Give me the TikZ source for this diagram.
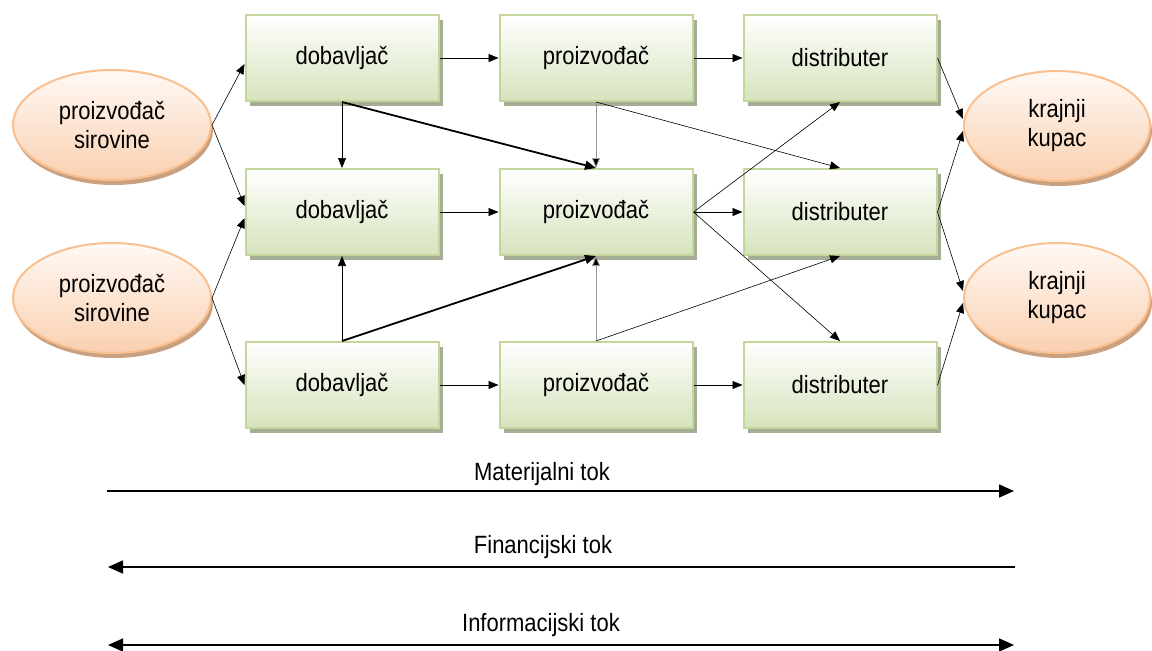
\documentclass[tikz,border=0pt]{standalone}
\usepackage{fontspec}
\setmainfont[FakeStretch=0.88]{Liberation Sans}
\usetikzlibrary{arrows.meta,shadows,calc,shapes.geometric}
\definecolor{boxborder}{HTML}{C3D69B}
\definecolor{boxbottom}{HTML}{D6E3BC}
\definecolor{boxshadow}{HTML}{A3AE94}
\definecolor{ellborder}{HTML}{F9BF8F}
\definecolor{elltop}{HTML}{FFF9F5}
\definecolor{ellbottom}{HTML}{FAD0B0}
\definecolor{ellshadow}{HTML}{C9A080}
\tikzset{
  stagebox/.style={rectangle, draw=boxborder, line width=2pt,
    top color=white, bottom color=boxbottom,
    minimum width=193pt, minimum height=86pt, inner sep=0pt,
    font=\fontsize{25}{29}\selectfont,
    drop shadow={shadow xshift=4pt, shadow yshift=-5pt, fill=boxshadow, opacity=1}},
  endell/.style={ellipse, draw=ellborder, line width=2pt,
    top color=elltop, bottom color=ellbottom,
    minimum width=198pt, minimum height=110pt, inner sep=0pt, align=center,
    font=\fontsize{25}{29}\selectfont,
    drop shadow={shadow xshift=2pt, shadow yshift=-5pt, fill=ellshadow, opacity=1}},
  thinarr/.style={line width=0.6pt, -{Triangle[length=10pt,width=8pt]}},
  thickarr/.style={line width=1.8pt, -{Triangle[length=11pt,width=9pt]}},
  grayarr/.style={line width=0.8pt, draw=gray!80, -{Triangle[length=10pt,width=8pt,fill=black]}},
  flowline/.style={line width=1.6pt},
  flowhead/.tip={Triangle[length=15pt,width=13pt]},
  flowlabel/.style={font=\fontsize{25}{29}\selectfont, inner sep=0pt}
}
\begin{document}
\begin{tikzpicture}[x=1pt,y=-1pt]
\useasboundingbox (0,0) rectangle (1152,651);
% ellipses
\node[endell] (s1) at (112,125) {proizvođač\\sirovine};
\node[endell] (s2) at (112,298) {proizvođač\\sirovine};
\node[endell, minimum width=186pt] (k1) at (1057,126) {krajnji\\kupac};
\node[endell, minimum width=186pt] (k2) at (1057,298) {krajnji\\kupac};
% boxes
\node[stagebox] (d1) at (342,58) {dobavljač};
\node[stagebox] (d2) at (342,212) {dobavljač};
\node[stagebox] (d3) at (342,385) {dobavljač};
\node[stagebox] (p1) at (596,58) {proizvođač};
\node[stagebox] (p2) at (596,212) {proizvođač};
\node[stagebox] (p3) at (596,385) {proizvođač};
\node[stagebox] (t1) at (840,58) {distributer};
\node[stagebox] (t2) at (840,212) {distributer};
\node[stagebox] (t3) at (840,385) {distributer};
% raw material producers to suppliers
\draw[thinarr] (s1.east) -- ($(d1.west)+(0,6)$);
\draw[thinarr] (s1.east) -- ($(d2.west)+(0,-6)$);
\draw[thinarr] (s2.east) -- ($(d2.west)+(0,6)$);
\draw[thinarr] (s2.east) -- (d3.west);
% suppliers
\draw[thinarr] (d1.south) -- (d2.north);
\draw[thinarr] (d3.north) -- (d2.south);
\draw[thickarr] (d1.south) -- (p2.north);
\draw[thickarr] (d3.north) -- (p2.south);
\draw[thinarr] (d1.east) -- (p1.west);
\draw[thinarr] (d2.east) -- (p2.west);
\draw[thinarr] (d3.east) -- (p3.west);
% producers
\draw[grayarr] (p1.south) -- (p2.north);
\draw[grayarr] (p3.north) -- (p2.south);
\draw[thinarr] (p1.south) -- (t2.north);
\draw[thinarr] (p3.north) -- (t2.south);
\draw[thinarr] (p2.east) -- (t1.south);
\draw[thinarr] (p2.east) -- (t2.west);
\draw[thinarr] (p2.east) -- (t3.north);
\draw[thinarr] (p1.east) -- (t1.west);
\draw[thinarr] (p3.east) -- (t3.west);
% distributors to customers
\draw[thinarr] (t1.east) -- ($(k1.west)+(0,-7)$);
\draw[thinarr] (t2.east) -- ($(k1.west)+(0,5)$);
\draw[thinarr] (t2.east) -- ($(k2.west)+(0,-7)$);
\draw[thinarr] (t3.east) -- ($(k2.west)+(0,5)$);
% flows
\coordinate (m1) at (107,491);
\coordinate (m2) at (1014,491);
\coordinate (f1) at (108,567);
\coordinate (f2) at (1015,567);
\coordinate (i1) at (108,645);
\coordinate (i2) at (1014,645);
\node[flowlabel] (ml) at (542,474) {Materijalni tok};
\node[flowlabel] (fl) at (543,547) {Financijski tok};
\node[flowlabel] (il) at (541,625) {Informacijski tok};
\draw[flowline, -{flowhead}] (m1) -- (m2);
\draw[flowline, {flowhead}-] (f1) -- (f2);
\draw[flowline, {flowhead}-{flowhead}] (i1) -- (i2);
\end{tikzpicture}
\end{document}
